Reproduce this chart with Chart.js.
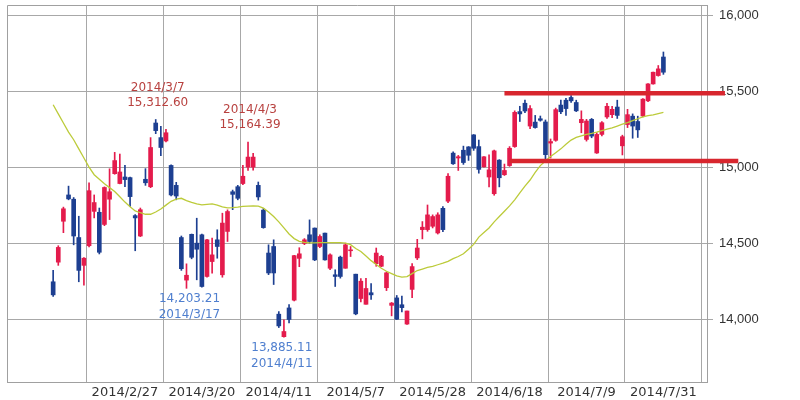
<!DOCTYPE html>
<html>
<head>
<meta charset="utf-8">
<script src="https://cdn.jsdelivr.net/npm/chart.js@4.4.0/dist/chart.umd.min.js"></script>
<style>
  html, body { margin: 0; padding: 0; background: #fff; }
</style>
</head>
<body>
<canvas id="chart" width="800" height="400"></canvas>
<script>
// daily candles, first one is 14 trading days before 2014/2/27
const firstIndex = -14;
const opens = [14246,14375,14644,14817,14789,14537,14354,14483,14709,14703,14623,14789,14957,14892,
  14935,14931,14681,14547,14920,14871,15290,15194,15172,15011,14880,14537,14257,14558,14500,
  14555,14281,14379,14522,14292,14577,14838,14871,14892,15000,15000,14880,14717,14435,14478,
  14033,13885,14074,14125,14400,14498,14555,14599,14478,14566,14335,14292,14408,14335,14450,
  14296,14136,14098,14174,14365,14348,14207,14091,14140,14095,13968,14196,14403,14589,14589,
  14611,14567,14729,14776,15092,15060,15111,15133,15212,15135,15002,14935,14825,15046,14950,
  15010,15135,15365,15420,15270,15296,15318,15297,15158,15176,15408,15440,15458,15425,15292,
  15182,15314,15093,15215,15330,15345,15395,15140,15280,15335,15300,15336,15436,15547,15602,
  15724];
const highs = [14321,14483,14737,14875,14800,14677,14405,14897,14817,14731,14870,14989,15097,15086,
  15011,14935,14688,14731,14990,15194,15313,15269,15248,15015,14900,14547,14364,14560,14664,
  14560,14525,14533,14588,14697,14719,14849,14880,15011,15164,15090,14902,14728,14489,14522,
  14050,13996,14096,14420,14470,14530,14653,14600,14555,14566,14430,14325,14415,14500,14478,
  14296,14267,14269,14234,14468,14420,14311,14110,14156,14152,14054,14365,14525,14642,14751,
  14686,14700,14740,14957,15100,15077,15138,15135,15214,15178,15070,15080,15112,15049,15020,
  15135,15370,15400,15440,15405,15340,15336,15310,15185,15388,15440,15452,15470,15440,15370,
  15314,15320,15226,15300,15420,15400,15440,15210,15380,15350,15335,15450,15550,15625,15668,
  15757];
const lows = [14150,14354,14569,14785,14489,14246,14224,14476,14666,14429,14615,14655,14953,14890,
  14871,14741,14450,14543,14880,14865,15220,15075,15165,14810,14785,14321,14203,14397,14259,
  14210,14276,14303,14401,14276,14511,14720,14785,14885,14978,14980,14783,14598,14293,14228,
  13945,13882,13976,14120,14345,14490,14500,14385,14470,14388,14325,14215,14270,14335,14412,
  14029,14114,14098,14130,14348,14345,14188,14022,13998,14048,13966,14141,14392,14528,14578,
  14600,14560,14575,14766,15018,14978,15018,15044,15110,14960,15000,14870,14815,14870,14945,
  15005,15130,15300,15358,15252,15256,15302,15055,15060,15170,15352,15340,15425,15365,15226,
  15171,15193,15090,15205,15320,15325,15320,15080,15260,15190,15195,15330,15430,15545,15598,
  15610];
const closes = [14160,14472,14726,14791,14547,14321,14401,14845,14767,14440,14866,14838,15043,14968,
  14918,14806,14666,14720,14897,15129,15240,15129,15226,14817,14810,14332,14289,14407,14460,
  14215,14522,14423,14478,14632,14708,14821,14795,14940,15066,15066,14804,14602,14304,14304,
  13956,13919,13998,14418,14430,14522,14511,14390,14544,14390,14423,14281,14281,14489,14456,
  14035,14250,14202,14160,14435,14413,14305,14106,14000,14076,14054,14346,14468,14605,14686,
  14675,14686,14589,14940,15022,15068,15030,15078,15124,14985,15068,14982,15107,14930,14978,
  15124,15360,15350,15369,15385,15260,15308,15082,15168,15378,15364,15385,15436,15370,15314,
  15303,15204,15215,15292,15400,15380,15340,15200,15345,15270,15245,15447,15547,15624,15646,
  15624];
// moving average line as drawn
const ma25 = [15410,15350,15290,15230,15180,15120,15060,15000,14950,14920,14890,14865,14840,14805,
  14770,14740,14712,14700,14690,14690,14705,14725,14750,14775,14790,14795,14780,14768,14758,
  14752,14755,14758,14750,14738,14732,14734,14737,14742,14744,14745,14744,14730,14705,14675,
  14640,14600,14560,14530,14512,14505,14502,14502,14503,14504,14504,14504,14503,14500,14490,
  14465,14445,14415,14385,14360,14335,14315,14300,14285,14277,14280,14300,14320,14330,14340,
  14348,14358,14368,14380,14398,14412,14430,14460,14492,14540,14570,14600,14640,14675,14710,
  14745,14785,14830,14875,14915,14965,15010,15040,15070,15095,15120,15150,15178,15195,15205,
  15215,15222,15230,15240,15250,15258,15270,15282,15293,15305,15318,15330,15338,15344,15352,
  15360];

const tickIndexes = [0, 15, 30, 45, 60, 75, 90, 105];
const tickLabels = ['2014/2/27', '2014/3/20', '2014/4/11', '2014/5/7', '2014/5/28', '2014/6/18', '2014/7/9', '2014/7/31'];
const yTicks = [14000, 14500, 15000, 15500, 16000];

// horizontal red lines
const lineLevels = [15485, 15040];
const lineFrom = [74, 75];
const lineTo = [117, 119.6];

// high / low notes
const highNoteIndex = [6, 24];
const highNoteValue = [15312.60, 15164.39];
const highNoteDate = ['2014/3/7', '2014/4/3'];
const lowNoteIndex = [12, 30];
const lowNoteValue = [14203.21, 13885.11];
const lowNoteDate = ['2014/3/17', '2014/4/11'];

const UP = '#e41b4c';
const DOWN = '#1d3f91';
const xs = opens.map((_, k) => firstIndex + k);
const candleColors = opens.map((o, k) => (closes[k] >= o ? UP : DOWN));
const fmt2 = new Intl.NumberFormat('en-US', { minimumFractionDigits: 2, maximumFractionDigits: 2 });

const datasets = [
  {
    label: 'wick',
    data: xs.map((x, k) => ({ x: x, y: [lows[k], highs[k]] })),
    backgroundColor: candleColors,
    barThickness: 1,
    grouped: false,
    order: 3,
  },
  {
    label: 'body',
    data: xs.map((x, k) => ({ x: x, y: [opens[k], closes[k]] })),
    backgroundColor: candleColors,
    barThickness: 4,
    grouped: false,
    order: 2,
  },
  {
    type: 'line',
    label: 'ma',
    data: xs.map((x, k) => ({ x: x, y: ma25[k] })),
    borderColor: '#bccb3a',
    borderWidth: 1.3,
    pointRadius: 0,
    tension: 0,
    order: 1,
  },
];
lineLevels.forEach((lv, j) => {
  datasets.push({
    type: 'line',
    label: 'level' + j,
    data: [{ x: lineFrom[j], y: lv }, { x: lineTo[j], y: lv }],
    borderColor: '#d8262e',
    borderWidth: 4.5,
    pointRadius: 0,
    clip: false,
    order: 0,
  });
});

const noPad = (s) => { s.paddingTop = 0; s.paddingBottom = 0; s.paddingLeft = 0; s.paddingRight = 0; };

const framePlugin = {
  id: 'frame',
  beforeDatasetsDraw(chart) {
    const { ctx, chartArea: a } = chart;
    ctx.save();
    ctx.strokeStyle = '#a0a0a0';
    ctx.lineWidth = 1;
    ctx.beginPath();
    ctx.moveTo(a.left + 0.5, a.bottom);
    ctx.lineTo(a.left + 0.5, a.top + 0.5);
    ctx.lineTo(a.right, a.top + 0.5);
    ctx.stroke();
    ctx.restore();
  },
};

const notesPlugin = {
  id: 'notes',
  afterDatasetsDraw(chart) {
    const { ctx, scales } = chart;
    ctx.save();
    ctx.font = '12px "DejaVu Sans"';
    ctx.textAlign = 'center';
    ctx.textBaseline = 'middle';
    ctx.fillStyle = '#b8413f';
    highNoteIndex.forEach((ix, j) => {
      const px = scales.x.getPixelForValue(ix) + 2;
      const py = scales.y.getPixelForValue(highNoteValue[j]);
      ctx.fillText(highNoteDate[j], px, py - 32);
      ctx.fillText(fmt2.format(highNoteValue[j]), px, py - 17);
    });
    ctx.fillStyle = '#4f7fcf';
    lowNoteIndex.forEach((ix, j) => {
      const px = scales.x.getPixelForValue(ix) + 3;
      const py = scales.y.getPixelForValue(lowNoteValue[j]);
      ctx.fillText(fmt2.format(lowNoteValue[j]), px, py + 11);
      ctx.fillText(lowNoteDate[j], px, py + 27);
    });
    ctx.restore();
  },
};

new Chart(document.getElementById('chart'), {
  type: 'bar',
  data: { datasets: datasets },
  options: {
    responsive: false,
    animation: false,
    layout: { padding: { left: 7, top: 5, right: 0, bottom: 0 } },
    plugins: { legend: { display: false }, tooltip: { enabled: false } },
    scales: {
      x: {
        type: 'linear',
        min: -23,
        max: 113.5,
        offset: false,
        afterBuildTicks: (s) => { s.ticks = tickIndexes.map((v) => ({ value: v })); },
        afterFit: (s) => { s.height = 18; noPad(s); },
        ticks: {
          callback: (v) => tickLabels[tickIndexes.indexOf(v)] || '',
          color: '#333',
          font: { family: 'DejaVu Sans', size: 13 },
          padding: 3,
          maxRotation: 0,
          autoSkip: false,
        },
        grid: { color: '#a8a8a8', drawTicks: false },
        border: { color: '#a0a0a0' },
      },
      y: {
        position: 'right',
        min: 13587,
        max: 16066,
        afterBuildTicks: (s) => { s.ticks = yTicks.map((v) => ({ value: v })); },
        afterFit: (s) => { s.width = 93; noPad(s); },
        ticks: {
          callback: (v) => v.toLocaleString('en-US'),
          color: '#333',
          font: { family: 'Liberation Sans', size: 13 },
          padding: 6,
        },
        grid: { color: '#a8a8a8', tickLength: 6 },
        border: { color: '#a0a0a0' },
      },
    },
  },
  plugins: [framePlugin, notesPlugin],
});
</script>
</body>
</html>
